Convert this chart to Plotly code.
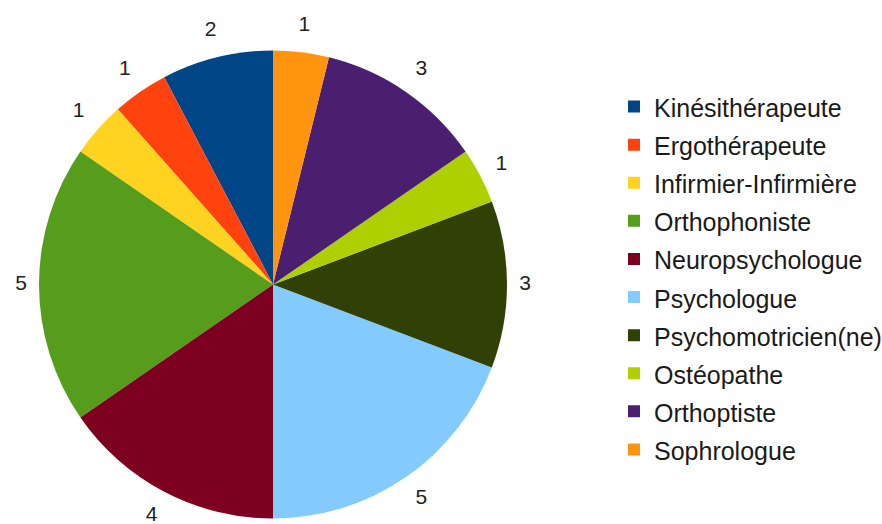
import math
import plotly.graph_objects as go

# Professions and number of respondents per profession
professions = [
    "Kinésithérapeute",
    "Ergothérapeute",
    "Infirmier-Infirmière",
    "Orthophoniste",
    "Neuropsychologue",
    "Psychologue",
    "Psychomotricien(ne)",
    "Ostéopathe",
    "Orthoptiste",
    "Sophrologue",
]
counts = [2, 1, 1, 5, 4, 5, 3, 1, 3, 1]
slice_colors = [
    "#004586", "#ff420e", "#ffd320", "#579d1c", "#7e0021",
    "#83caff", "#314004", "#aecf00", "#4b1f6f", "#ff950e",
]

W, H = 882, 524
CX, CY = 273, 284.5      # pie centre in pixels (from top-left)
R = 234                  # pie radius in pixels
LABEL_GAP = 12           # space between the rim and the value label box
LABEL_W, LABEL_H = 12, 28

total = sum(counts)
# first slice starts at 12 o'clock and the slices run counterclockwise
START = -360.0 * counts[0] / total

FONT = "Liberation Sans, Arial, sans-serif"

# mid-angle of every slice (degrees counterclockwise from 12 o'clock)
mid_angles = []
acc = 0
for v in counts:
    mid_angles.append((acc + v / 2) / total * 360.0)
    acc += v

# value label anchor points, in a frame centred on the pie (1 unit = 1 px)
label_x, label_y = [], []
for a in mid_angles:
    s, c = math.sin(math.radians(a)), math.cos(math.radians(a))
    r = R + LABEL_GAP + abs(s) * LABEL_W / 2 + abs(c) * LABEL_H / 2
    label_x.append(-r * s)
    label_y.append(r * c)

# legend entries: larger legend font gives the row spacing, span keeps text size
legend_names = [f'<span style="font-size:25px">{p}</span>' for p in professions]

pie_domain = dict(x=[(CX - R) / W, (CX + R) / W],
                  y=[(H - CY - R) / H, (H - CY + R) / H])

fig = go.Figure()

fig.add_trace(go.Pie(
    labels=legend_names,
    values=counts,
    marker=dict(colors=slice_colors, line=dict(width=0)),
    sort=False,
    direction="counterclockwise",
    rotation=START,
    textinfo="none",
    hovertemplate="%{label}: %{value}<extra></extra>",
    domain=pie_domain,
))

fig.add_trace(go.Scatter(
    x=label_x,
    y=label_y,
    mode="text",
    text=[str(v) for v in counts],
    textposition="middle center",
    textfont=dict(family=FONT, size=21, color="#222222"),
    cliponaxis=False,
    hoverinfo="skip",
    showlegend=False,
))

fig.update_layout(
    width=W,
    height=H,
    margin=dict(l=0, r=0, t=0, b=0, autoexpand=False),
    paper_bgcolor="white",
    plot_bgcolor="rgba(0,0,0,0)",
    font=dict(family=FONT, color="#1a1a1a"),
    showlegend=True,
    xaxis=dict(range=[-CX, W - CX], visible=False, fixedrange=True),
    yaxis=dict(range=[-(H - CY), CY], visible=False, fixedrange=True),
    legend=dict(
        x=1 + 5 / W, xanchor="right",
        y=1 - 278.5 / H, yanchor="middle",
        font=dict(family=FONT, size=27, color="#1a1a1a"),
        bgcolor="rgba(0,0,0,0)",
        traceorder="normal",
    ),
)

fig.write_html("out.html")
